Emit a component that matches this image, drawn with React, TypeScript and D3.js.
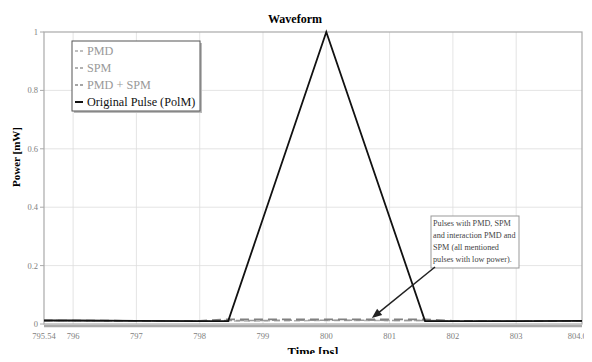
import * as d3 from "d3";

const times = [795.54, 796, 797, 798, 798.45, 800, 801.56, 802, 803, 804.04];
const originalPulse = [0.012, 0.012, 0.011, 0.01, 0.01, 1, 0.01, 0.01, 0.01, 0.011];
const pmd = [0.011, 0.011, 0.01, 0.01, 0.01, 0.012, 0.012, 0.01, 0.01, 0.01];
const spm = [0.012, 0.011, 0.011, 0.01, 0.012, 0.013, 0.012, 0.011, 0.01, 0.01];
const pmdSpm = [0.012, 0.012, 0.011, 0.011, 0.016, 0.016, 0.016, 0.011, 0.01, 0.01];

const xTicks = [795.54, 796, 797, 798, 799, 800, 801, 802, 803, 804.04];
const yTicks = [0, 0.2, 0.4, 0.6, 0.8, 1];
const legendLabels = ["PMD", "SPM", "PMD + SPM", "Original Pulse (PolM)"];
const noteLines = ["Pulses with PMD, SPM", "and interaction PMD and", "SPM (all mentioned", "pulses with low power)."];

const W = 592, H = 362;
const m = { left: 44, right: 10, top: 32, bottom: 38 };
const font = "Liberation Serif";

export default function App() {
     const x = d3.scaleLinear().domain([795.54, 804.04]).range([m.left, W - m.right]);
     const y = d3.scaleLinear().domain([0, 1]).range([H - m.bottom, m.top]);
     const line = (vals: number[]) =>
          d3.line<number>().x((_, i) => x(times[i])).y(d => y(d))(vals) || "";

     const series = [
          { vals: pmd, stroke: "#b0b0b0", dash: "6 4", w: 1.5 },
          { vals: spm, stroke: "#999", dash: "8 4", w: 1.5 },
          { vals: pmdSpm, stroke: "#808080", dash: "9 5", w: 1.7 },
          { vals: originalPulse, stroke: "#111", dash: "", w: 1.8 },
     ];
     const legendColors = ["#aaa", "#999", "#888", "#111"];

     // annotation arrow
     const ax1 = 435, ay1 = 267;
     const ax2 = x(800.72), ay2 = y(0.01) - 3;
     const ang = Math.atan2(ay2 - ay1, ax2 - ax1);
     const hl = 10, hw = 4;
     const head = [
          [ax2, ay2],
          [ax2 - hl * Math.cos(ang) + hw * Math.sin(ang), ay2 - hl * Math.sin(ang) - hw * Math.cos(ang)],
          [ax2 - hl * Math.cos(ang) - hw * Math.sin(ang), ay2 - hl * Math.sin(ang) + hw * Math.cos(ang)],
     ].map(p => p.join(",")).join(" ");

     return (
          <div style={{ margin: -8 }}>
               <svg width={W} height={H} style={{ display: "block", background: "#fff", fontFamily: font }}>
                    {/* grid */}
                    {xTicks.slice(1, -1).map(t => (
                         <line key={t} x1={x(t)} x2={x(t)} y1={y(1)} y2={y(0)} stroke="#ddd" strokeWidth={0.8} />
                    ))}
                    {yTicks.slice(1, -1).map(t => (
                         <line key={t} x1={m.left} x2={W - m.right} y1={y(t)} y2={y(t)} stroke="#ddd" strokeWidth={0.8} />
                    ))}
                    <rect x={m.left} y={y(1)} width={W - m.left - m.right} height={y(0) - y(1)} fill="none" stroke="#aaa" strokeWidth={1.2} />
                    <line x1={m.left} x2={W - m.right} y1={y(0) + 2} y2={y(0) + 2} stroke="#aaa" strokeWidth={2.5} />

                    {/* ticks */}
                    {yTicks.map(t => (
                         <g key={t}>
                              <line x1={m.left - 4} x2={m.left} y1={y(t)} y2={y(t)} stroke="#aaa" />
                              <text x={m.left - 6} y={y(t) + 3} textAnchor="end" fontSize={8.5} fill="#808080">{t}</text>
                         </g>
                    ))}
                    {xTicks.map((t, i) => (
                         <text key={t} x={i === xTicks.length - 1 ? W - 1 : x(t)} y={y(0) + 15}
                              textAnchor={i === xTicks.length - 1 ? "end" : "middle"} fontSize={8.5} fill="#808080">{t}</text>
                    ))}

                    {/* series */}
                    {series.map((s, i) => (
                         <path key={i} d={line(s.vals)} fill="none" stroke={s.stroke} strokeWidth={s.w} strokeDasharray={s.dash} />
                    ))}

                    {/* titles */}
                    <text x={295} y={23} textAnchor="middle" fontSize={12} fontWeight="bold">Waveform</text>
                    <text x={313} y={356} textAnchor="middle" fontSize={12.5} fontWeight="bold">Time [ps]</text>
                    <text transform={`translate(20,157) rotate(-90)`} textAnchor="middle" fontSize={11} fontWeight="bold">Power [mW]</text>

                    {/* legend */}
                    <rect x={74} y={43} width={128} height={70} fill="#bbb" />
                    <rect x={72} y={41} width={128} height={70} fill="#fff" stroke="#555" strokeWidth={1} />
                    {legendLabels.map((l, i) => (
                         <g key={l}>
                              <line x1={75} x2={83} y1={51 + i * 17} y2={51 + i * 17}
                                   stroke={legendColors[i]} strokeWidth={i === 3 ? 2 : 1.3} strokeDasharray={i === 3 ? "" : "3 2"} />
                              <text x={87} y={55 + i * 17} fontSize={12.2} fill={i === 3 ? "#111" : "#999"}>{l}</text>
                         </g>
                    ))}

                    {/* annotation */}
                    <rect x={431} y={216} width={88} height={52} fill="#fff" stroke="#999" strokeWidth={1} />
                    {noteLines.map((l, i) => (
                         <text key={i} x={433} y={226 + i * 12} fontSize={8.2} fill="#444">{l}</text>
                    ))}
                    <line x1={ax1} y1={ay1} x2={ax2 - 6 * Math.cos(ang)} y2={ay2 - 6 * Math.sin(ang)} stroke="#222" strokeWidth={1.5} />
                    <polygon points={head} fill="#222" />
               </svg>
          </div>
     );
}
